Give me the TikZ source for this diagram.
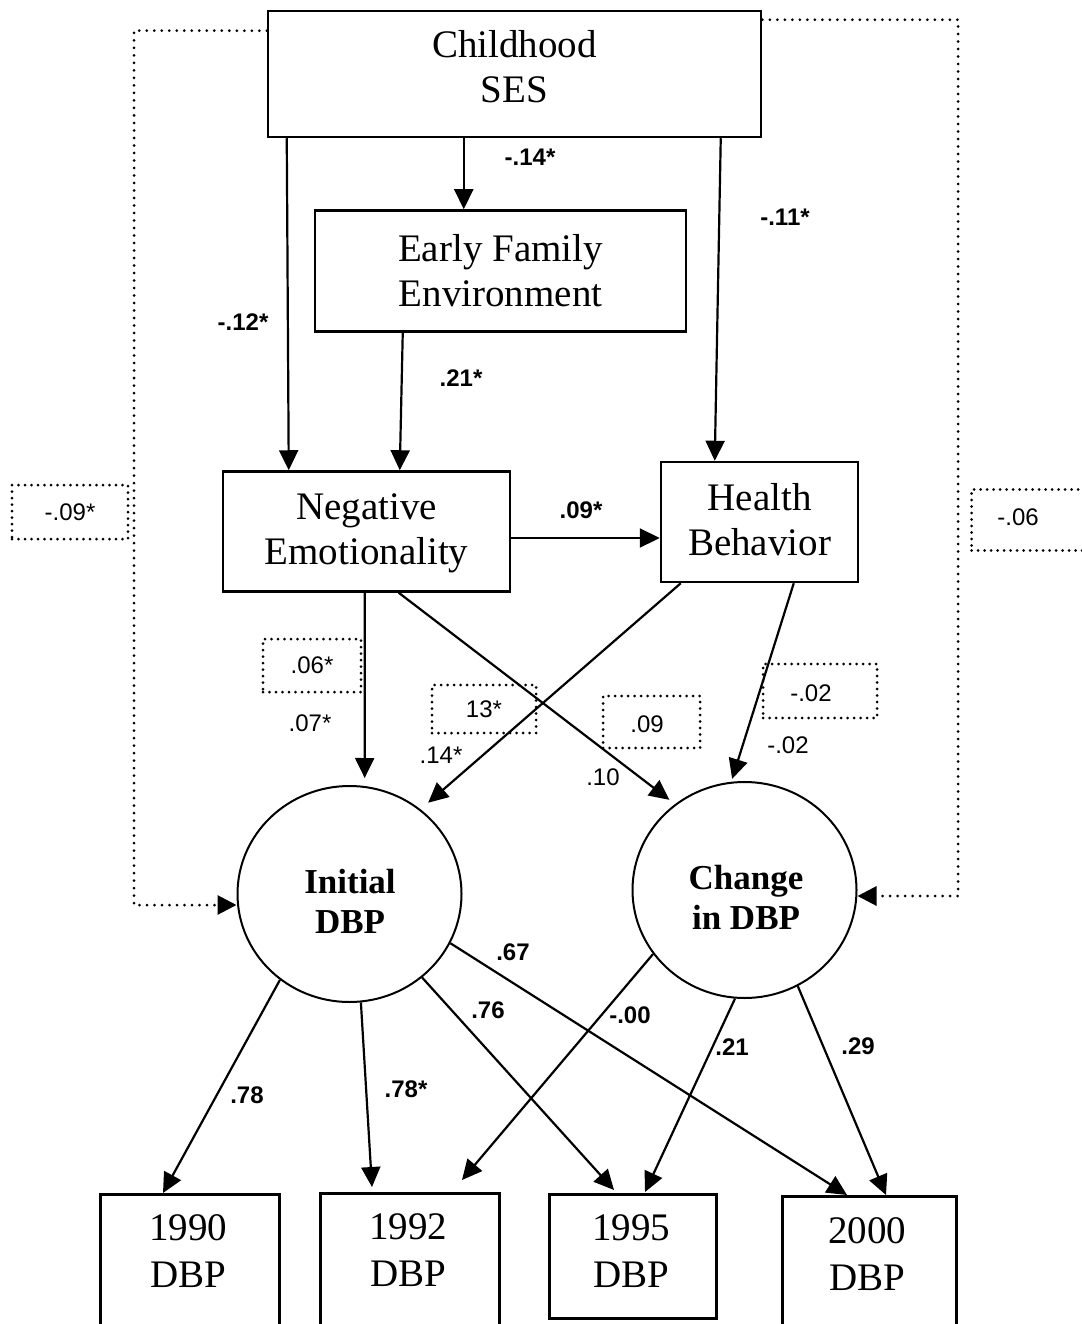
\documentclass[tikz,border=0pt]{standalone}
\usepackage{fontspec}
\setmainfont{Liberation Serif}
\newfontfamily\lsans{Liberation Sans}
\usetikzlibrary{arrows.meta,calc,shapes.geometric}
\begin{document}
\begin{tikzpicture}[x=1pt,y=-1pt,
  box/.style={draw, line width=2.5pt, inner sep=0pt, align=center, font=\fontsize{39}{45}\selectfont},
  dtext/.style={inner sep=0pt, align=center, font=\fontsize{39}{47}\selectfont},
  lat/.style={draw, ellipse, line width=2pt, minimum width=224pt, minimum height=216pt, inner sep=0pt},
  lattext/.style={inner sep=0pt, align=center, font=\fontsize{35}{40}\selectfont\bfseries},
  arr/.style={line width=2.2pt, -{Triangle[length=20pt,width=19pt]}},
  dotarr/.style={line width=3pt, line cap=round, dash pattern=on 0pt off 7.5pt, -{Triangle[length=19pt,width=19pt]}},
  dbox/.style={draw, line width=3pt, line cap=round, dash pattern=on 0pt off 6.5pt, inner sep=0pt, font=\lsans\fontsize{24}{28}\selectfont},
  blab/.style={inner sep=0pt, font=\lsans\fontsize{24}{28}\selectfont\bfseries},
  rlab/.style={inner sep=0pt, font=\lsans\fontsize{24}{28}\selectfont},
]
\path[use as bounding box, fill=white] (0,0) rectangle (1081,1324);

% main boxes
\node[box, minimum width=493pt, minimum height=126pt] (ses) at (514.5,74) {};
\node[dtext, font=\fontsize{39}{45}\selectfont] (sest) at (514.5,67) {Childhood\\SES};
\node[box, minimum width=371pt, minimum height=121pt] (efe) at (500.5,271) {Early Family\\Environment};
\node[box, minimum width=287pt, minimum height=120pt] (neg) at (366.5,531.5) {};
\node[dtext, font=\fontsize{39}{45}\selectfont] (negt) at (366.5,533) {Negative\\Emotionality};
\node[box, minimum width=197pt, minimum height=120pt] (hb) at (759.5,522) {};
\node[dtext, font=\fontsize{39}{45}\selectfont] (hbt) at (759.5,519.5) {Health\\Behavior};
\node[lat] (ini) at (349.5,894) {};
\node[lattext] (init) at (350,901) {Initial\\DBP};
\node[lat] (chg) at (744.5,890) {};
\node[lattext] (chgt) at (746,897) {Change\\in DBP};

% bottom boxes
\node[box, minimum width=179pt, minimum height=150pt, anchor=north west] (b90) at (99,1193) {};
\node[box, minimum width=179pt, minimum height=150pt, anchor=north west] (b92) at (319,1192) {};
\node[box, minimum width=167pt, minimum height=124pt, anchor=north west] (b95) at (548,1193) {};
\node[box, minimum width=174pt, minimum height=150pt, anchor=north west] (b00) at (781,1195) {};
\node[dtext] (t90) at (188,1251) {1990\\DBP};
\node[dtext] (t92) at (408,1250) {1992\\DBP};
\node[dtext] (t95) at (631,1251) {1995\\DBP};
\node[dtext] (t00) at (867,1254) {2000\\DBP};

% solid arrows
\draw[arr] ($(ses.south west)+(20,0)$) -- ($(neg.north west)+(67,0)$);
\draw[arr] ($(ses.south west)+(197,0)$) -- ($(efe.north west)+(150,0)$);
\draw[arr] ($(efe.south west)+(89,0)$) -- ($(neg.north west)+(178,0)$);
\draw[arr] ($(ses.south west)+(454,0)$) -- ($(hb.north west)+(55,0)$);
\draw[arr] ($(neg.east)+(0,6.5)$) -- ($(hb.west)+(0,16)$);
\draw[arr, shorten >=8pt] ($(neg.south west)+(143,0)$) -- (ini.82);
\draw[arr, shorten >=10pt] ($(hb.south west)+(21,0)$) -- (ini.50);
\draw[arr, shorten >=7pt] ($(neg.south west)+(177,0)$) -- (chg.129);
\draw[arr, shorten >=3pt] ($(hb.south west)+(134,0)$) -- (chg.97);

% dotted arrows
\coordinate (lc) at (134,905);
\coordinate (rc) at (958,896);
\draw[dotarr] ($(ses.north west)+(0,21)$) -| (lc) -- (lc -| ini.west);
\draw[dotarr] ($(ses.north east)+(0,10)$) -| (rc) -- (rc -| chg.east);

% bottom arrows
\draw[arr] (ini.-129) -- ($(b90.north west)+(64,0)$);
\draw[arr] (ini.-84) -- ($(b92.north west)+(53,-5)$);
\draw[arr] (ini.-49) -- ($(b95.north west)+(66,-3)$);
\draw[arr] (ini.-26) -- ($(b00.north west)+(66,0)$);
\draw[arr] (chg.-145) -- ($(b92.north west)+(143,-12)$);
\draw[arr] (chg.-95) -- ($(b95.north west)+(97,-1)$);
\draw[arr] (chg.-61) -- ($(b00.north west)+(105,0)$);

% dotted label boxes
\node[dbox, minimum width=116pt, minimum height=54pt] (d1) at (70,512) {-.09*};
\node[dbox, minimum width=130pt, minimum height=61pt, anchor=north west] (d2) at (970,488) {};
\node[rlab] (d2t) at (1018,517) {-.06};
\node[dbox, minimum width=98pt, minimum height=53pt] (d3) at (312,665.5) {.06*};
\node[dbox, minimum width=104pt, minimum height=48pt] (d4) at (484,709) {13*};
\node[dbox, minimum width=97pt, minimum height=52pt] (d5) at (651.5,722) {};
\node[rlab] (d5t) at (647,724) {.09};
\node[dbox, minimum width=114pt, minimum height=54pt] (d6) at (820,691) {};
\node[rlab] (d6t) at (811,693) {-.02};

% bold labels
\node[blab] (l1) at (530,157) {-.14*};
\node[blab] (l2) at (243,322) {-.12*};
\node[blab] (l3) at (461,378) {.21*};
\node[blab] (l4) at (785,217) {-.11*};
\node[blab] (l5) at (581,510) {.09*};
\node[blab] (l6) at (247,1095) {.78};
\node[blab] (l7) at (406,1089) {.78*};
\node[blab] (l8) at (488,1010) {.76};
\node[blab] (l9) at (513,952) {.67};
\node[blab] (l10) at (630,1015) {-.00};
\node[blab] (l11) at (732,1047) {.21};
\node[blab] (l12) at (858,1046) {.29};

% regular labels
\node[rlab] (r1) at (310,723) {.07*};
\node[rlab] (r2) at (441,755) {.14*};
\node[rlab] (r3) at (603,777) {.10};
\node[rlab] (r4) at (788,745) {-.02};
\end{tikzpicture}
\end{document}
